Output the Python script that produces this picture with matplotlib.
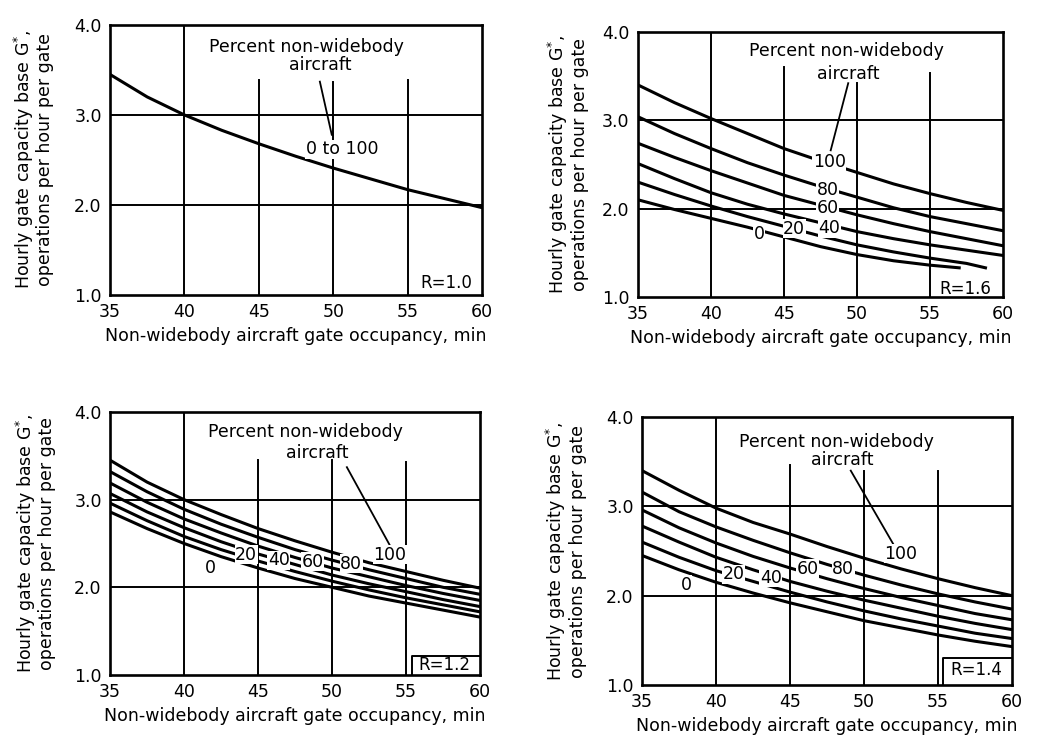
import numpy as np
import matplotlib.pyplot as plt

# gate occupancy (min) at which each curve was read
occupancy = [35, 37.5, 40, 42.5, 45, 47.5, 50, 52.5, 55, 57.5, 60]
percent = [100, 80, 60, 40, 20, 0]

# R = 1.0 : one curve for every mix
r10_all = [3.45, 3.20, 3.00, 2.83, 2.68, 2.54, 2.41, 2.29, 2.17, 2.07, 1.97]

# R = 1.6
r16_values = [
    [3.40, 3.20, 3.02, 2.85, 2.68, 2.54, 2.41, 2.28, 2.17, 2.07, 1.98],
    [3.04, 2.85, 2.68, 2.52, 2.38, 2.25, 2.13, 2.01, 1.91, 1.83, 1.75],
    [2.74, 2.58, 2.43, 2.29, 2.15, 2.04, 1.93, 1.83, 1.74, 1.66, 1.58],
    [2.51, 2.34, 2.18, 2.05, 1.94, 1.84, 1.74, 1.66, 1.59, 1.53, 1.47],
    [2.30, 2.16, 2.03, 1.91, 1.80, 1.69, 1.59, 1.51, 1.44, 1.38, 1.33],
    [2.10, 1.99, 1.89, 1.79, 1.68, 1.57, 1.48, 1.41, 1.36, 1.33],
]
# the two lowest R = 1.6 curves stop short of 60 min
r16_x20 = [35, 37.5, 40, 42.5, 45, 47.5, 50, 52.5, 55, 57.5, 58.8]
r16_x0 = [35, 37.5, 40, 42.5, 45, 47.5, 50, 52.5, 55, 57.0]

# R = 1.2
r12_values = [
    [3.45, 3.20, 3.00, 2.83, 2.67, 2.53, 2.40, 2.28, 2.18, 2.08, 1.99],
    [3.32, 3.09, 2.89, 2.72, 2.57, 2.43, 2.31, 2.20, 2.10, 2.00, 1.92],
    [3.19, 2.97, 2.78, 2.62, 2.47, 2.34, 2.22, 2.12, 2.02, 1.93, 1.85],
    [3.07, 2.86, 2.68, 2.52, 2.38, 2.26, 2.14, 2.04, 1.95, 1.86, 1.78],
    [2.96, 2.76, 2.58, 2.43, 2.30, 2.18, 2.07, 1.97, 1.88, 1.80, 1.72],
    [2.86, 2.67, 2.50, 2.35, 2.22, 2.10, 2.00, 1.90, 1.82, 1.74, 1.66],
]

# R = 1.4
r14_values = [
    [3.40, 3.18, 2.98, 2.82, 2.69, 2.55, 2.42, 2.30, 2.19, 2.09, 2.00],
    [3.16, 2.94, 2.77, 2.62, 2.48, 2.35, 2.23, 2.12, 2.02, 1.93, 1.85],
    [2.96, 2.76, 2.59, 2.44, 2.31, 2.19, 2.08, 1.98, 1.89, 1.80, 1.73],
    [2.78, 2.60, 2.43, 2.29, 2.16, 2.05, 1.95, 1.86, 1.77, 1.69, 1.62],
    [2.60, 2.43, 2.28, 2.16, 2.04, 1.93, 1.83, 1.74, 1.66, 1.58, 1.52],
    [2.45, 2.29, 2.15, 2.03, 1.92, 1.82, 1.72, 1.64, 1.56, 1.49, 1.43],
]

LW = 2.2
plt.rcParams['font.family'] = 'DejaVu Sans'


def setup(ax, vtops, ylab_x):
    ax.set_xlim(35, 60)
    ax.set_ylim(1, 4)
    ax.set_xticks([35, 40, 45, 50, 55, 60])
    ax.set_yticks([1, 2, 3, 4])
    ax.set_yticklabels(['1.0', '2.0', '3.0', '4.0'])
    ax.tick_params(length=0, labelsize=12.5, pad=6)
    for s in ax.spines.values():
        s.set_linewidth(1.9)
    ax.axhline(2.0, color='k', lw=1.4, zorder=1)
    ax.axhline(3.0, color='k', lw=1.4, zorder=1)
    ax.axvline(40, color='k', lw=1.4, zorder=1)
    for x, top in zip([45, 50, 55], vtops):
        ax.plot([x, x], [1, top], color='k', lw=1.4, zorder=1)
    ax.set_ylabel('Hourly gate capacity base G$^{*}$,\noperations per hour per gate',
                  fontsize=12.5, linespacing=1.05)
    ax.yaxis.set_label_coords(ylab_x, 0.5)
    ax.set_xlabel('Non-widebody aircraft gate occupancy, min', fontsize=12.5, labelpad=4)


def header(ax, x1, y1, x2, y2):
    ax.text(x1, y1, 'Percent non-widebody', fontsize=12.5, ha='center', va='center')
    ax.text(x2, y2, 'aircraft', fontsize=12.5, ha='center', va='center')


def curve_label(ax, x, y, s):
    ax.text(x, y, s, fontsize=12.5, ha='center', va='center', zorder=4,
            bbox=dict(facecolor='white', edgecolor='none', pad=0.4))


def r_box(ax, x, y, s, box=None):
    ax.text(x, y, s, fontsize=12, ha='center', va='center', zorder=4)
    if box is not None:
        bx, by = box
        ax.plot([bx, bx, 60], [1, by, by], color='k', lw=1.4, zorder=3)


fig = plt.figure(figsize=(10.45, 7.38), dpi=100)
ax_tl = fig.add_axes([0.1053, 0.6003, 0.3560, 0.3659])
ax_tr = fig.add_axes([0.6105, 0.5976, 0.3493, 0.3591])
ax_bl = fig.add_axes([0.1053, 0.0854, 0.3541, 0.3564])
ax_br = fig.add_axes([0.6144, 0.0718, 0.3541, 0.3631])

# R = 1.0
setup(ax_tl, [3.39, 3.37, 3.39], -0.15)
ax_tl.plot(occupancy, r10_all, color='k', lw=LW, zorder=2)
header(ax_tl, 48.2, 3.76, 49.1, 3.56)
ax_tl.plot([49.1, 49.9], [3.37, 2.78], color='k', lw=1.3)
curve_label(ax_tl, 50.6, 2.62, '0 to 100')
r_box(ax_tl, 57.6, 1.13, 'R=1.0')

# R = 1.6
setup(ax_tr, [3.6, 3.42, 3.53], -0.135)
for i, vals in enumerate(r16_values):
    xs = occupancy
    if percent[i] == 20:
        xs = r16_x20
    elif percent[i] == 0:
        xs = r16_x0
    ax_tr.plot(xs, vals, color='k', lw=LW, zorder=2)
header(ax_tr, 49.3, 3.79, 49.4, 3.52)
ax_tr.plot([49.4, 48.2], [3.42, 2.66], color='k', lw=1.3)
for x, y, s in [(48.1, 2.53, '100'), (48.0, 2.21, '80'), (48.0, 2.01, '60'),
                (48.1, 1.78, '40'), (45.7, 1.77, '20'), (43.3, 1.71, '0')]:
    curve_label(ax_tr, x, y, s)
r_box(ax_tr, 57.4, 1.09, 'R=1.6')

# R = 1.2
setup(ax_bl, [3.45, 3.45, 3.43], -0.145)
for vals in r12_values:
    ax_bl.plot(occupancy, vals, color='k', lw=LW, zorder=2)
header(ax_bl, 48.2, 3.77, 49.0, 3.53)
ax_bl.plot([51.0, 53.9], [3.37, 2.48], color='k', lw=1.3)
for x, y, s in [(53.9, 2.37, '100'), (51.3, 2.27, '80'), (48.7, 2.29, '60'),
                (46.4, 2.31, '40'), (44.2, 2.37, '20'), (41.8, 2.22, '0')]:
    curve_label(ax_bl, x, y, s)
r_box(ax_bl, 57.6, 1.11, 'R=1.2', box=(55.4, 1.22))

# R = 1.4
setup(ax_br, [3.46, 3.40, 3.40], -0.15)
for vals in r14_values:
    ax_br.plot(occupancy, vals, color='k', lw=LW, zorder=2)
header(ax_br, 48.1, 3.72, 48.5, 3.52)
ax_br.plot([49.1, 52.0], [3.40, 2.57], color='k', lw=1.3)
for x, y, s in [(52.5, 2.47, '100'), (48.6, 2.30, '80'), (46.2, 2.30, '60'),
                (43.7, 2.20, '40'), (41.2, 2.24, '20'), (38.0, 2.12, '0')]:
    curve_label(ax_br, x, y, s)
r_box(ax_br, 57.6, 1.17, 'R=1.4', box=(55.3, 1.30))

fig.savefig('out.png', dpi=100)
